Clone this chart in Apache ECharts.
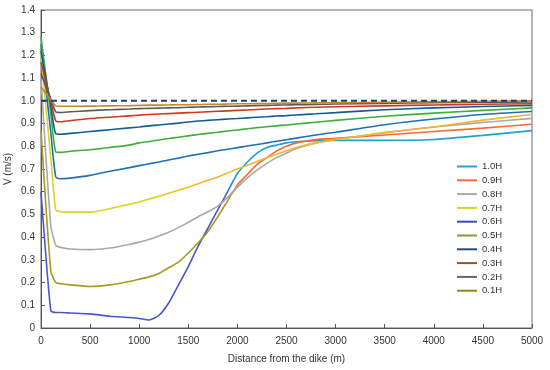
<!DOCTYPE html>
<html>
<head>
<meta charset="utf-8">
<script src="https://cdn.jsdelivr.net/npm/echarts@6/dist/echarts.min.js"></script>
<style>html,body{margin:0;padding:0;background:#fff;}#c{width:550px;height:370px;}</style>
</head>
<body>
<div id="c"></div>
<script>
// Distance from the dike (m)
const distance = [0,100,150,200,300,500,700,900,1000,1100,1200,1300,1400,1500,1600,1700,1800,1900,2000,2100,2200,2300,2400,2500,2600,2800,3000,3500,4000,4500,5000];
const seriesNames = ['1.0H','0.9H','0.8H','0.7H','0.6H','0.5H','0.4H','0.3H','0.2H','0.1H'];
const v10H = [0.60,0.075,0.068,0.068,0.066,0.062,0.052,0.046,0.042,0.035,0.055,0.11,0.19,0.27,0.36,0.44,0.52,0.60,0.68,0.73,0.77,0.795,0.805,0.815,0.82,0.825,0.826,0.826,0.83,0.848,0.869];
const v09H = [0.87,0.25,0.20,0.195,0.19,0.183,0.19,0.205,0.215,0.225,0.24,0.265,0.29,0.33,0.375,0.425,0.49,0.56,0.63,0.675,0.72,0.75,0.78,0.80,0.815,0.83,0.835,0.85,0.865,0.88,0.897];
const v08H = [1.10,0.45,0.365,0.355,0.348,0.345,0.352,0.368,0.378,0.39,0.405,0.422,0.442,0.465,0.49,0.512,0.537,0.575,0.62,0.66,0.695,0.725,0.75,0.77,0.79,0.815,0.83,0.86,0.885,0.905,0.923];
const v07H = [1.20,0.747,0.52,0.512,0.51,0.51,0.525,0.545,0.555,0.568,0.58,0.593,0.606,0.62,0.635,0.65,0.665,0.682,0.70,0.716,0.733,0.75,0.765,0.78,0.795,0.815,0.83,0.86,0.885,0.915,0.94];
const v06H = [1.25,0.86,0.665,0.657,0.66,0.672,0.69,0.706,0.715,0.723,0.731,0.74,0.748,0.757,0.765,0.772,0.78,0.787,0.794,0.801,0.808,0.815,0.822,0.829,0.836,0.85,0.862,0.895,0.92,0.94,0.953];
const v05H = [1.28,0.943,0.775,0.773,0.778,0.785,0.795,0.805,0.815,0.821,0.828,0.834,0.84,0.846,0.852,0.857,0.862,0.867,0.872,0.877,0.882,0.886,0.89,0.894,0.898,0.906,0.914,0.932,0.946,0.958,0.969];
const v04H = [1.22,0.977,0.855,0.853,0.857,0.865,0.873,0.881,0.885,0.89,0.894,0.898,0.902,0.907,0.911,0.914,0.917,0.92,0.922,0.925,0.928,0.93,0.933,0.935,0.938,0.943,0.948,0.961,0.969,0.975,0.98];
const v03H = [1.17,0.998,0.912,0.908,0.913,0.922,0.928,0.934,0.937,0.94,0.942,0.944,0.946,0.948,0.95,0.952,0.954,0.956,0.958,0.96,0.962,0.964,0.966,0.967,0.969,0.972,0.974,0.978,0.982,0.985,0.987];
const v02H = [1.12,1.008,0.952,0.949,0.952,0.957,0.961,0.964,0.966,0.967,0.968,0.969,0.97,0.972,0.973,0.974,0.975,0.976,0.977,0.978,0.979,0.98,0.981,0.982,0.983,0.984,0.986,0.989,0.992,0.994,0.995];
const v01H = [1.06,1.005,0.978,0.976,0.976,0.977,0.978,0.979,0.98,0.981,0.981,0.982,0.983,0.983,0.984,0.985,0.985,0.986,0.987,0.987,0.988,0.988,0.989,0.99,0.99,0.991,0.992,0.994,0.996,0.998,1.0];
const refDistance = [0, 5000];
const refValue = [1.0, 1.0];
const yTicks = ['0','0.1','0.2','0.3','0.4','0.5','0.6','0.7','0.8','0.9','1.0','1.1','1.2','1.3','1.4'];

const allValues = [v10H,v09H,v08H,v07H,v06H,v05H,v04H,v03H,v02H,v01H];

function grad(x0, x1, c0, c1) {
  return {type:'linear', x:x0, y:0, x2:x1, y2:0, global:true,
    colorStops:[{offset:0,color:c0},{offset:1,color:c1}]};
}
const lineColors = [
  grad(222, 236, '#4a55cc', '#1f9fd2'),
  grad(224, 238, '#a69a24', '#f26c34'),
  '#a8a8a8',
  grad(140, 210, '#dcd31c', '#f8b42a'),
  '#1e6fb9',
  '#3daf38',
  '#0f5c97',
  '#cc3a1a',
  '#5a5a5a',
  '#c6862a'
];
const legendColors = ['#27a0d6','#f26c34','#a8a8a8','#d9d31a','#3550c2','#7a9a3c','#2b4a7c','#8a5a22','#646464','#8c8a12'];

const series = seriesNames.map((n, i) => ({
  name: n,
  type: 'line',
  symbol: 'none',
  smooth: 0.2,
  data: distance.map((d, k) => [d, allValues[i][k]]),
  lineStyle: {width: 1.6, color: lineColors[i]},
  itemStyle: {color: legendColors[i]},
  z: 3
}));
series.push({
  name: 'ref',
  type: 'line',
  symbol: 'none',
  data: refDistance.map((d, k) => [d, refValue[k]]),
  lineStyle: {width: 2, color: '#1d3e6c', type: [6, 4]},
  z: 4
});

const chart = echarts.init(document.getElementById('c'), null, {renderer: 'canvas'});
chart.setOption({
  animation: false,
  backgroundColor: '#fff',
  textStyle: {fontFamily: 'Liberation Sans, Arial, sans-serif'},
  grid: {left: 41, right: 18, top: 10, bottom: 42, show: true, borderColor: '#6a6a6a', borderWidth: 1,
    containLabel: false, outerBoundsMode: 'none'},
  legend: {
    data: seriesNames.map((n, i) => ({name: n, itemStyle: {color: legendColors[i]}})),
    orient: 'vertical',
    left: 452,
    top: 156,
    icon: 'rect',
    itemWidth: 20,
    itemHeight: 2,
    itemGap: 2.8,
    textStyle: {fontSize: 9.5, color: '#333', lineHeight: 11, fontFamily: 'Liberation Sans, Arial, sans-serif'}
  },
  xAxis: {
    type: 'value', min: 0, max: 5000, interval: 500,
    name: 'Distance from the dike (m)', nameLocation: 'middle', nameGap: 26,
    nameTextStyle: {fontSize: 10, color: '#333'},
    axisLine: {lineStyle: {color: '#555', width: 1}},
    axisTick: {inside: true, length: 4, lineStyle: {color: '#555'}},
    axisLabel: {fontSize: 10, color: '#333', margin: 8, formatter: v => String(v)},
    splitLine: {show: false}
  },
  yAxis: {
    type: 'value', min: 0, max: 1.4, interval: 0.1,
    name: 'V (m/s)', nameLocation: 'middle', nameGap: 28, nameMoveOverlap: false,
    nameTextStyle: {fontSize: 10, color: '#333'},
    axisLine: {show: true, lineStyle: {color: '#555', width: 1}},
    axisTick: {show: true, inside: true, length: 4, lineStyle: {color: '#555'}},
    axisLabel: {fontSize: 10, color: '#333', margin: 6,
      formatter: v => yTicks[Math.round(v * 10)]},
    splitLine: {show: false}
  },
  series: series
});
</script>
</body>
</html>
